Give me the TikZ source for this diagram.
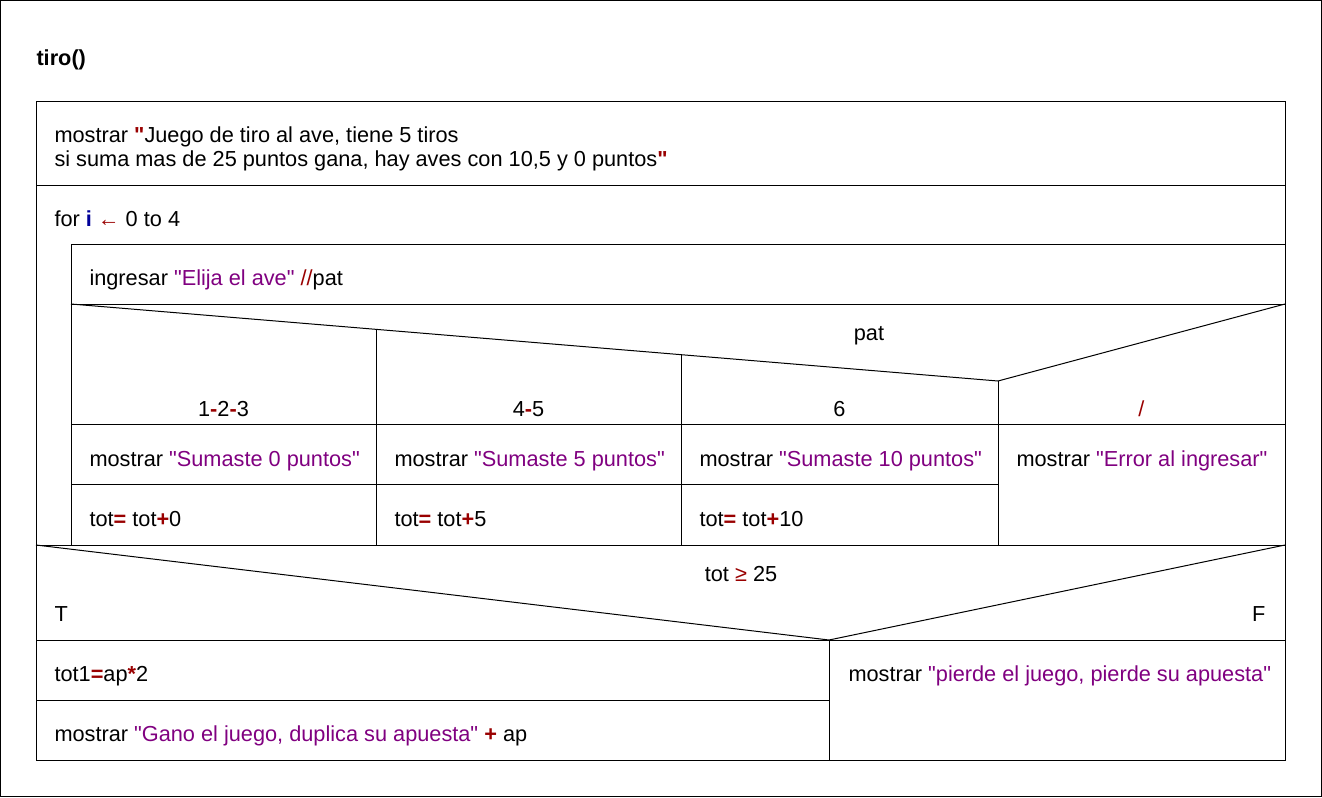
\documentclass[tikz,border=0pt]{standalone}
\usepackage{fontspec}
\setmainfont{Liberation Sans}[Ligatures=TeXOff]
\usetikzlibrary{positioning,calc}
\definecolor{opred}{RGB}{153,0,0}
\definecolor{strviolet}{RGB}{128,0,128}
\definecolor{varblue}{RGB}{0,0,153}
\tikzstyle{txt}=[anchor=base west,inner sep=0pt]
\tikzstyle{lbl}=[anchor=base,inner sep=0pt]
\newcommand{\op}[1]{\textcolor{opred}{\textbf{#1}}}
\newcommand{\str}[1]{\textcolor{strviolet}{#1}}
\newcommand{\newText}[3]{\node[txt](#1) at (#2) {#3};}
\newcommand{\newLabel}[3]{\node[lbl](#1) at (#2) {#3};}

\begin{document}
\begin{tikzpicture}[x=0.75pt,y=-0.75pt,line width=0.75pt,
    font=\fontsize{16.3}{18}\selectfont
    ]
    \useasboundingbox (0,0) rectangle (1322,797);
    \draw (0.5,0.5) rectangle (1321,796);
    % procedure frame
    \coordinate (nw) at (36,101);
    \coordinate (se) at (1285,760);
    \draw (nw) rectangle (se);
    \draw (36,185) -- (1285,185);
    % loop body
    \coordinate (lnw) at (71,244);
    \coordinate (lsw) at (71,545);
    \draw (lsw) -- (lnw) -- (1285,244);
    \draw (36,545) -- (1285,545);
    \draw (71,304) -- (1285,304);
    % case block
    \coordinate (cw) at (71,304);
    \coordinate (cv) at (998,381);
    \coordinate (ce) at (1285,304);
    \draw (cw) -- (cv) -- (ce);
    \draw (376,329.3) -- (376,545);
    \draw (681,354.7) -- (681,545);
    \draw (cv) -- (998,545);
    \draw (71,424) -- (1285,424);
    \draw (71,484) -- (998,484);
    % if block
    \coordinate (iw) at (36,545);
    \coordinate (iv) at (829,640);
    \coordinate (ie) at (1285,545);
    \draw (iw) -- (iv) -- (ie);
    \draw (36,640) -- (1285,640);
    \draw (iv) -- (829,760);
    \draw (36,700) -- (829,700);
    % texts
    \newText{title}{36,65}{\textbf{tiro()}}
    \newText{intro1}{54,142.7}{mostrar \op{"}Juego de tiro al ave, tiene 5 tiros}
    \newText{intro2}{54,166.7}{si suma mas de 25 puntos gana, hay aves con 10,5 y 0 puntos\op{"}}
    \newText{loop}{54,226}{for \textcolor{varblue}{\textbf{i}} \textcolor{opred}{←} 0 to 4}
    \newText{read}{89,285}{ingresar \str{"Elija el ave"} \textcolor{opred}{//}pat}
    \newLabel{sel}{869,340}{pat}
    \newLabel{c1}{223.5,416.5}{1\op{-}2\op{-}3}
    \newLabel{c2}{528.5,416.5}{4\op{-}5}
    \newLabel{c3}{839.5,416.5}{6}
    \newLabel{c4}{1141.5,416.5}{\textcolor{opred}{/}}
    \newText{s1}{89,466}{mostrar \str{"Sumaste 0 puntos"}}
    \newText{s2}{394,466}{mostrar \str{"Sumaste 5 puntos"}}
    \newText{s3}{699,466}{mostrar \str{"Sumaste 10 puntos"}}
    \newText{s4}{1016,466}{mostrar \str{"Error al ingresar"}}
    \newText{t1}{89,526}{tot\op{=} tot\op{+}0}
    \newText{t2}{394,526}{tot\op{=} tot\op{+}5}
    \newText{t3}{699,526}{tot\op{=} tot\op{+}10}
    \newLabel{cond}{741,581}{tot \textcolor{opred}{≥} 25}
    \newText{yes}{54,621.7}{T}
    \node[anchor=base east,inner sep=0pt](no) at (1266,621.7) {F};
    \newText{win1}{54,681.7}{tot1\op{=}ap\op{*}2}
    \newText{win2}{54,741.7}{mostrar \str{"Gano el juego, duplica su apuesta"} \op{+} ap}
    \newText{lose}{848,681.7}{mostrar \str{"pierde el juego, pierde su apuesta"}}
\end{tikzpicture}
\end{document}
